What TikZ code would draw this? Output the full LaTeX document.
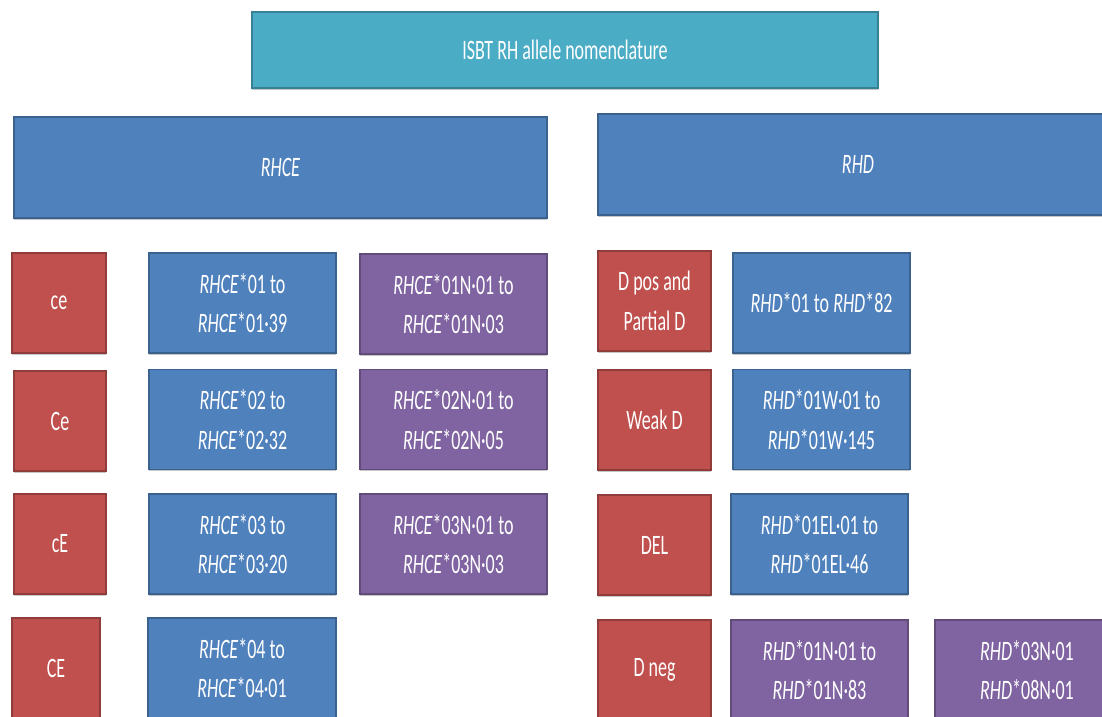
\documentclass[tikz,border=0pt]{standalone}
\usepackage{fontspec}
\setmainfont{Carlito}[FakeStretch=0.64]
\usetikzlibrary{shadows}
\definecolor{teal}{HTML}{4BACC6}
\definecolor{ofblue}{HTML}{4F81BD}
\definecolor{ofred}{HTML}{C0504D}
\definecolor{ofpurple}{HTML}{8064A2}
\begin{document}
\begin{tikzpicture}[box/.style = {rectangle, text=white, align=center, line width=0.8pt,
    font=\fontsize{20}{28}\selectfont, minimum height=2.5cm, inner sep=0pt,
    drop shadow={shadow xshift=0pt, shadow yshift=-1.2pt, opacity=.45}},
  tealbox/.style = {box, fill=teal, draw=teal!75!black},
  bluebox/.style = {box, fill=ofblue, draw=ofblue!75!black},
  redbox/.style = {box, fill=ofred, draw=ofred!75!black},
  purplebox/.style = {box, fill=ofpurple, draw=ofpurple!75!black}]
\useasboundingbox (0,0) rectangle (27.55,-17.9);
\clip (0,0) rectangle (27.55,-17.9);
\fill[white] (0,0) rectangle (27.55,-17.9);
% headers
\node[tealbox, minimum width=15.65cm, minimum height=1.9cm] (top) at (14.125,-1.25) {ISBT RH allele nomenclature};
\node[bluebox, minimum width=13.325cm, minimum height=2.525cm] (rhce) at (7.0125,-4.1875) {\textit{RHCE}};
\node[bluebox, minimum width=13cm, minimum height=2.525cm] (rhd) at (21.45,-4.1125) {\textit{RHD}};
% RHCE
\node[redbox, minimum width=2.35cm] (1) at (1.475,-7.575) {ce};
\node[bluebox, minimum width=4.675cm] (2) at (6.0625,-7.575) {\textit{RHCE}*01 to\\\textit{RHCE}*01·39};
\node[purplebox, minimum width=4.675cm] (3) at (11.3375,-7.6) {\textit{RHCE}*01N·01 to\\\textit{RHCE}*01N·03};
\node[redbox, minimum width=2.3cm] (4) at (1.5,-10.525) {Ce};
\node[bluebox, minimum width=4.675cm] (5) at (6.0625,-10.4875) {\textit{RHCE}*02 to\\\textit{RHCE}*02·32};
\node[purplebox, minimum width=4.675cm] (6) at (11.3375,-10.4875) {\textit{RHCE}*02N·01 to\\\textit{RHCE}*02N·05};
\node[redbox, minimum width=2.3cm] (7) at (1.5,-13.6) {cE};
\node[bluebox, minimum width=4.675cm] (8) at (6.0625,-13.6) {\textit{RHCE}*03 to\\\textit{RHCE}*03·20};
\node[purplebox, minimum width=4.675cm] (9) at (11.3375,-13.6) {\textit{RHCE}*03N·01 to\\\textit{RHCE}*03N·03};
\node[redbox, minimum width=2.2cm] (10) at (1.4,-16.7) {CE};
\node[bluebox, minimum width=4.7cm] (11) at (6.05,-16.7) {\textit{RHCE}*04 to\\\textit{RHCE}*04·01};
% RHD
\node[redbox, minimum width=2.825cm] (12) at (16.3625,-7.525) {D pos and\\Partial D};
\node[bluebox, minimum width=4.425cm] (13) at (20.5375,-7.575) {\textit{RHD}*01 to \textit{RHD}*82};
\node[redbox, minimum width=2.825cm] (14) at (16.3625,-10.5) {Weak D};
\node[bluebox, minimum width=4.425cm] (15) at (20.5375,-10.4875) {\textit{RHD}*01W·01 to\\\textit{RHD}*01W·145};
\node[redbox, minimum width=2.825cm] (16) at (16.3625,-13.625) {DEL};
\node[bluebox, minimum width=4.425cm] (17) at (20.4875,-13.6) {\textit{RHD}*01EL·01 to\\\textit{RHD}*01EL·46};
\node[redbox, minimum width=2.825cm] (18) at (16.3625,-16.75) {D neg};
\node[purplebox, minimum width=4.425cm] (19) at (20.4875,-16.75) {\textit{RHD}*01N·01 to\\\textit{RHD}*01N·83};
\node[purplebox, minimum width=4.6cm] (20) at (25.675,-16.75) {\textit{RHD}*03N·01\\\textit{RHD}*08N·01};
\end{tikzpicture}
\end{document}
